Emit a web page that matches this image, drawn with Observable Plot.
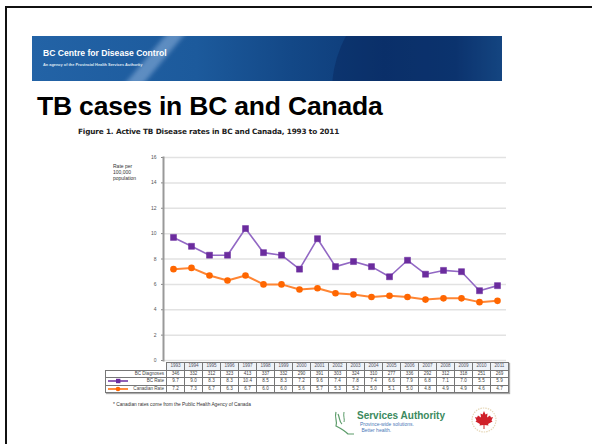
<!DOCTYPE html>
<html>
<head>
<meta charset="utf-8">
<script src="https://cdn.jsdelivr.net/npm/d3@7"></script>
<script src="https://cdn.jsdelivr.net/npm/@observablehq/plot@0.6"></script>
<style>
  html, body { margin: 0; padding: 0; background: #fff; }
  body { width: 592px; height: 444px; position: relative; overflow: hidden; font-family: "Liberation Sans", Arial, sans-serif; }
  .border { position: absolute; left: 5px; top: 6px; width: 700px; height: 600px; border-left: 2px solid #111; border-top: 2px solid #111; }
  .banner { position: absolute; left: 32px; top: 36px; width: 470px; height: 45px; overflow: hidden;
    background: linear-gradient(90deg, #2363a6 0%, #1c5a9c 35%, #134887 55%, #0d3a77 75%, #0f3f7e 90%, #1c5b9b 100%); }
  .streak { position: absolute; left: 110px; top: -20px; width: 14px; height: 100px; background: rgba(170,200,235,0.45); transform: rotate(40deg); filter: blur(2px); }
  .arc { position: absolute; left: 300px; top: -60px; width: 230px; height: 230px; border-radius: 50%; background: rgba(5,30,80,0.35); }
  .banner h1 { position: absolute; left: 11px; top: 12px; margin: 0; color: #fff; font: bold 8.6px "Liberation Sans", Arial, sans-serif; letter-spacing: 0; }
  .banner p { position: absolute; left: 11px; top: 26px; margin: 0; color: #dfe8f3; font: bold 3.9px "Liberation Sans", Arial, sans-serif; }
  .title { position: absolute; left: 37px; top: 91px; margin: 0; font: bold 26.5px "Liberation Sans", Arial, sans-serif; color: #000; letter-spacing: -0.2px; }
  .fig { position: absolute; left: 78px; top: 127px; margin: 0; font: bold 7.3px "DejaVu Sans", sans-serif; color: #222; letter-spacing: -0.15px; }
  .ylab { position: absolute; left: 113px; top: 163px; font: 5px "Liberation Sans", Arial, sans-serif; color: #333; line-height: 6px; }
  #chart { position: absolute; left: 100px; top: 140px; }
  #table { position: absolute; left: 105px; top: 362px; border-collapse: collapse; font: 4.6px "Liberation Sans", Arial, sans-serif; color: #444; box-shadow: 1px 1px 1px #aaa; }
  #table td { border: 1px solid #777; padding: 0; height: 6.5px; text-align: center; white-space: nowrap; line-height: 6px; }
  #table td.lab { text-align: right; padding-right: 2px; }
  #table tr.hdr td { background: #eef2f7; color: #556; }
  .note { position: absolute; left: 113px; top: 402px; font: 4.8px "Liberation Sans", Arial, sans-serif; color: #333; }
  .psa { position: absolute; left: 357px; top: 410px; color: #3b8a5e; font: bold 10px "Liberation Sans", Arial, sans-serif; }
  .psa2 { position: absolute; left: 360px; top: 421px; color: #4a78b8; font: 5px "Liberation Sans", Arial, sans-serif; line-height: 6px; }
  .map { position: absolute; left: 330px; top: 410px; }
  .leaf { position: absolute; left: 470px; top: 405px; }
</style>
</head>
<body>
<div class="border"></div>
<div class="banner"><div class="streak"></div><div class="arc"></div>
  <h1>BC Centre for Disease Control</h1>
  <p>An agency of the Provincial Health Services Authority</p>
</div>
<div class="title">TB cases in BC and Canada</div>
<div class="fig">Figure 1. Active TB Disease rates in BC and Canada, 1993 to 2011</div>
<div class="ylab">Rate per<br>100,000<br>population</div>
<div id="chart"></div>
<table id="table"></table>
<div class="note">* Canadian rates come from the Public Health Agency of Canada</div>
<svg class="map" width="30" height="26" viewBox="0 0 30 26">
  <path d="M6 2 C4 8 8 12 6 16 C10 18 14 20 18 24 L24 24 M8 4 C10 8 9 12 12 14" fill="none" stroke="#5c9c6a" stroke-width="1.2"/>
  <path d="M14 2 C13 6 15 10 14 12" fill="none" stroke="#5c9c6a" stroke-width="1"/>
</svg>
<div class="psa">Services Authority</div>
<div class="psa2">Province-wide solutions.<br>&nbsp;Better health.</div>
<svg class="leaf" width="28" height="30" viewBox="0 0 28 30">
  <circle cx="14" cy="15" r="12" fill="none" stroke="#e6d7b8" stroke-width="1.2" stroke-dasharray="1.5 1"/>
  <path d="M14 6 L15.5 9.5 L17.5 8.5 L17 12.5 L20 10.5 L21 12.5 L23 12 L21.5 15.5 L22.5 16.5 L18 19 L18.5 20.5 L14.5 20 L14.5 24 L13.5 24 L13.5 20 L9.5 20.5 L10 19 L5.5 16.5 L6.5 15.5 L5 12 L7 12.5 L8 10.5 L11 12.5 L10.5 8.5 L12.5 9.5 Z" fill="#d0202a"/>
</svg>
<script>
// ---- data ----
const years = ["1993","1994","1995","1996","1997","1998","1999","2000","2001","2002","2003","2004","2005","2006","2007","2008","2009","2010","2011"];
const bcDiagnoses = [346, 332, 312, 323, 413, 337, 332, 290, 391, 303, 324, 310, 277, 336, 292, 312, 318, 251, 269];
const bcRate = [9.7, 9.0, 8.3, 8.3, 10.4, 8.5, 8.3, 7.2, 9.6, 7.4, 7.8, 7.4, 6.6, 7.9, 6.8, 7.1, 7.0, 5.5, 5.9];
const canadaRate = [7.2, 7.3, 6.7, 6.3, 6.7, 6.0, 6.0, 5.6, 5.7, 5.3, 5.2, 5.0, 5.1, 5.0, 4.8, 4.9, 4.9, 4.6, 4.7];
const yTicks = [0, 2, 4, 6, 8, 10, 12, 14, 16];
const rowLabels = ["BC Diagnoses", "BC Rate", "Canadian Rate"];

const purple = "#6b2c9e", purpleLine = "#9268c4";
const orange = "#ff6600", orangeLine = "#ff8533";

const bc = years.map((y, i) => ({year: y, value: bcRate[i]}));
const ca = years.map((y, i) => ({year: y, value: canadaRate[i]}));

const chart = Plot.plot({
  width: 420, height: 230,
  marginLeft: 63, marginRight: 14, marginTop: 17, marginBottom: 10,
  style: {background: "transparent", fontFamily: "Liberation Sans, Arial, sans-serif"},
  x: {type: "band", domain: years, padding: 0, axis: null},
  y: {domain: [0, 16], ticks: yTicks, label: null},
  marks: [
    Plot.gridY(yTicks, {stroke: "#e2e2e2", strokeOpacity: 1, strokeWidth: 1.5}),
    Plot.axisY(yTicks, {tickSize: 2, tickPadding: 5, fontSize: 5, color: "#555", stroke: "#888", label: null, tickFormat: d => d}),
    Plot.frame({anchor: "left", stroke: "#999", strokeWidth: 2}),
    Plot.line(bc, {x: "year", y: "value", stroke: purpleLine, strokeWidth: 1.6}),
    Plot.dot(bc, {x: "year", y: "value", symbol: "square", r: 3.4, fill: purple, stroke: purple, strokeWidth: 0.5}),
    Plot.line(ca, {x: "year", y: "value", stroke: orangeLine, strokeWidth: 2}),
    Plot.dot(ca, {x: "year", y: "value", symbol: "circle", r: 3.3, fill: orange})
  ]
});
document.getElementById("chart").appendChild(chart);

// ---- data table aligned to Plot's x scale ----
const xs = chart.scale("x");
const step = xs.step !== undefined ? xs.step : xs.bandwidth;
const labelW = (100 + 63) - 105;
const table = document.getElementById("table");
function row(cls, label, swatch, values) {
  const tr = document.createElement("tr");
  if (cls) tr.className = cls;
  const td0 = document.createElement("td");
  td0.className = "lab";
  td0.style.width = labelW + "px";
  td0.style.minWidth = labelW + "px";
  td0.style.maxWidth = labelW + "px";
  if (swatch) td0.innerHTML = swatch;
  td0.appendChild(document.createTextNode(label));
  if (cls === "hdr") td0.style.borderTop = "none", td0.style.borderLeft = "none", td0.style.background = "#fff";
  tr.appendChild(td0);
  values.forEach(v => {
    const td = document.createElement("td");
    td.style.width = (step - 1) + "px";
    td.style.minWidth = (step - 1) + "px";
    td.style.maxWidth = (step - 1) + "px";
    td.textContent = v;
    tr.appendChild(td);
  });
  table.appendChild(tr);
}
const sw = (c, shape) => `<svg width="22" height="6" style="float:left;margin-left:1px"><line x1="1" x2="21" y1="3" y2="3" stroke="${c}" stroke-width="1.5"/>${shape === "square" ? `<rect x="9" y="0.8" width="4.4" height="4.4" fill="${c}"/>` : `<circle cx="11" cy="3" r="2.3" fill="${c}"/>`}</svg>`;
row("hdr", "", null, years);
row(null, rowLabels[0], null, bcDiagnoses);
row(null, rowLabels[1], sw(purple, "square"), bcRate.map(d => d.toFixed(1)));
row(null, rowLabels[2], sw(orange, "circle"), canadaRate.map(d => d.toFixed(1)));
</script>
</body>
</html>
